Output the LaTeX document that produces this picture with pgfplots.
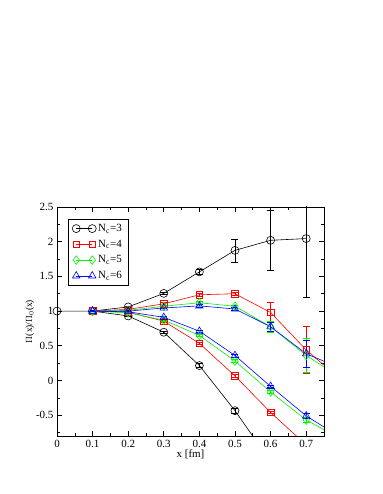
\documentclass[border=0pt]{standalone}
\usepackage{pgfplots}
\pgfplotsset{compat=1.18}
\usepackage{fontspec}
\setmainfont{Liberation Serif}

\definecolor{grred}{RGB}{255,0,0}
\definecolor{grgreen}{RGB}{0,245,0}
\definecolor{grblue}{RGB}{0,0,255}

\begin{document}
\begin{tikzpicture}[x=1pt,y=1pt]
\useasboundingbox (0,0) rectangle (382,494);
\begin{axis}[
  at={(57pt,58pt)}, anchor=south west,
  scale only axis, width=267pt, height=229pt,
  xmin=0, xmax=0.75, ymin=-0.8, ymax=2.5,
  xtick={0,0.1,...,0.7}, ytick={-0.5,0,...,2.5},
  minor xtick={0.05,0.15,...,0.75}, minor ytick={-0.75,-0.25,...,2.25},
  xticklabels={0,0.1,0.2,0.3,0.4,0.5,0.6,0.7},
  yticklabels={-0.5,0,0.5,1,1.5,2,2.5},
  tick align=inside, major tick length=5pt, minor tick length=3pt,
  tick style={black, line width=0.6pt},
  axis line style={line width=0.7pt},
  ticklabel style={font=\fontsize{11}{13}\selectfont},
  xticklabel style={yshift=-1pt},
  xlabel={x [fm]}, ylabel={$\Pi$(x)/$\Pi_0$(x)},
  xlabel style={font=\fontsize{11}{13}\selectfont, yshift=5pt},
  ylabel style={font=\fontsize{9.5}{11}\selectfont, yshift=-5pt},
  every axis plot/.append style={line width=0.6pt, mark options={solid, line width=0.6pt}},
  error bars/y dir=both, error bars/y explicit,
  error bars/error bar style={line width=0.6pt},
  error bars/error mark options={rotate=90, mark size=3.5pt, line width=0.6pt},
  legend style={at={(0.041,0.948)}, anchor=north west, draw=black, line width=0.6pt,
    font=\fontsize{11}{12}\selectfont, row sep=3pt, inner xsep=4pt, inner ysep=3pt},
  legend cell align=left,
  legend image code/.code={\draw[#1] plot coordinates {(0pt,0pt) (16pt,0pt)};},
]
% N_c = 3
\addplot[black, mark=o, mark size=4pt] coordinates {
 (0,1) +- (0,0) (0.1,1.0) +- (0,0.01) (0.2,1.06) +- (0,0.01) (0.3,1.255) +- (0,0.02)
 (0.4,1.565) +- (0,0.04) (0.5,1.875) +- (0,0.165) (0.6,2.02) +- (0,0.43) (0.7,2.045) +- (0,0.85)};
\addlegendentry{N$_\mathrm{c}$=3}
\addplot[black, mark=o, mark size=4pt, forget plot] coordinates {
 (0.1,1.0) +- (0,0.01) (0.2,0.93) +- (0,0.01) (0.3,0.695) +- (0,0.02)
 (0.4,0.215) +- (0,0.03) (0.5,-0.435) +- (0,0.04) (0.6,-1.17) +- (0,0.05)};
% N_c = 4
\addplot[grred, mark=square, mark size=3.3pt] coordinates {
 (0.1,1.0) +- (0,0.01) (0.2,1.025) +- (0,0.01) (0.3,1.105) +- (0,0.015)
 (0.4,1.235) +- (0,0.02) (0.5,1.25) +- (0,0.02) (0.6,0.98) +- (0,0.14) (0.7,0.44) +- (0,0.335) (0.8,0.0) +- (0,0)};
\addlegendentry{N$_\mathrm{c}$=4}
\addplot[grred, mark=square, mark size=3.3pt, forget plot] coordinates {
 (0.1,1.0) +- (0,0.01) (0.2,0.985) +- (0,0.01) (0.3,0.855) +- (0,0.015)
 (0.4,0.535) +- (0,0.02) (0.5,0.065) +- (0,0.02) (0.6,-0.46) +- (0,0.02) (0.7,-0.93) +- (0,0.03)};
% N_c = 5
\addplot[grgreen, mark=diamond, mark size=4.3pt] coordinates {
 (0.1,1.0) +- (0,0.01) (0.2,1.01) +- (0,0.01) (0.3,1.07) +- (0,0.01)
 (0.4,1.12) +- (0,0.02) (0.5,1.07) +- (0,0.02) (0.6,0.775) +- (0,0.085) (0.7,0.36) +- (0,0.245) (0.8,0.03) +- (0,0)};
\addlegendentry{N$_\mathrm{c}$=5}
\addplot[grgreen, mark=diamond, mark size=4.3pt, forget plot] coordinates {
 (0.1,1.0) +- (0,0.01) (0.2,0.975) +- (0,0.01) (0.3,0.87) +- (0,0.01)
 (0.4,0.65) +- (0,0.015) (0.5,0.28) +- (0,0.02) (0.6,-0.165) +- (0,0.02) (0.7,-0.57) +- (0,0.03) (0.8,-0.845) +- (0,0)};
% N_c = 6
\addplot[grblue, mark=triangle, mark size=4.3pt] coordinates {
 (0.1,1.0) +- (0,0.01) (0.2,1.0) +- (0,0.01) (0.3,1.045) +- (0,0.01)
 (0.4,1.075) +- (0,0.02) (0.5,1.03) +- (0,0.02) (0.6,0.775) +- (0,0.07) (0.7,0.385) +- (0,0.2) (0.8,0.17) +- (0,0)};
\addlegendentry{N$_\mathrm{c}$=6}
\addplot[grblue, mark=triangle, mark size=4.3pt, forget plot] coordinates {
 (0.1,1.0) +- (0,0.01) (0.2,0.99) +- (0,0.01) (0.3,0.91) +- (0,0.01)
 (0.4,0.71) +- (0,0.015) (0.5,0.36) +- (0,0.02) (0.6,-0.085) +- (0,0.02) (0.7,-0.51) +- (0,0.03) (0.8,-0.83) +- (0,0)};
\end{axis}
\end{tikzpicture}
\end{document}
